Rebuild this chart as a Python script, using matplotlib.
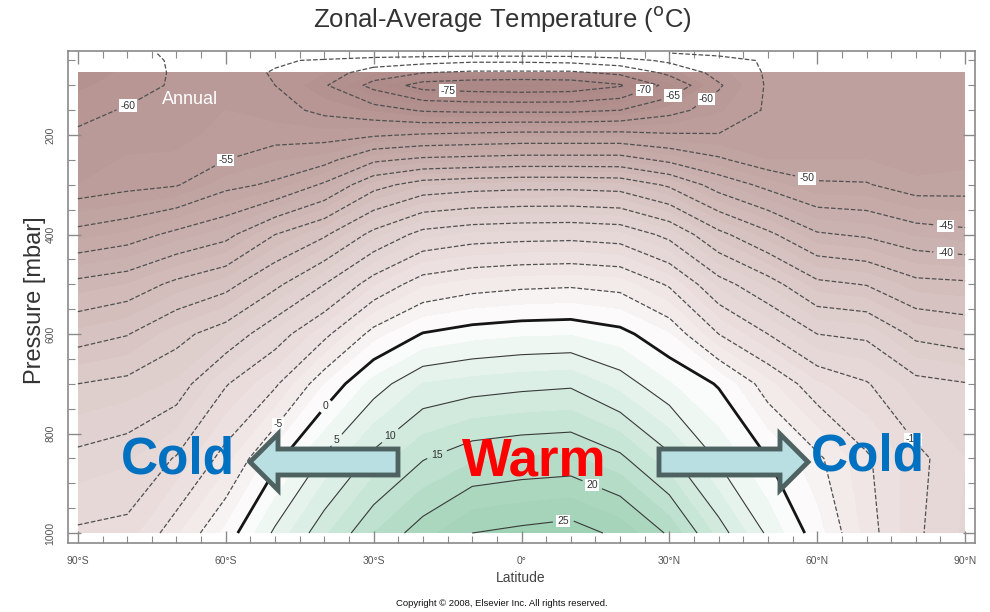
import numpy as np
import matplotlib
matplotlib.use("Agg")
import matplotlib.pyplot as plt
from matplotlib.colors import LinearSegmentedColormap
from matplotlib.patches import Rectangle, Polygon

# latitude (deg, south negative) and pressure levels (mbar)
lats = [-90, -80, -70, -60, -50, -40, -30, -20, -10, 0, 10, 20, 30, 40, 50, 60, 70, 80, 90]
pressures = [35, 50, 75, 100, 150, 200, 250, 300, 400, 500, 600, 700, 850, 1000]

# zonal-average temperature (C), one row per pressure level
t_35 = [-64.5, -61.5, -59, -58, -58.5, -57, -57, -57, -57, -57, -57, -56, -55, -54, -53, -52.5, -52.5, -52.5, -52.5]
t_50 = [-64, -61.5, -59.5, -58.5, -59.5, -60.5, -62, -63, -64, -64, -63.5, -62, -59, -56.5, -54.5, -53, -53, -52.5, -52.5]
t_75 = [-64, -62, -59.5, -58.5, -60.3, -62.5, -67.5, -70, -71, -71, -71, -69, -64, -58.5, -54.5, -53, -53, -53, -53]
t_100 = [-63, -61.5, -59.5, -58, -60, -64.5, -71.5, -77, -78, -78.5, -78, -75.5, -68.5, -60.5, -54.5, -53, -53, -53.5, -53.5]
t_150 = [-61, -59.7, -59, -57.5, -58.5, -61, -63, -65.5, -66, -66, -66, -65, -61.5, -58, -54.5, -53, -53.5, -54, -54]
t_200 = [-59.5, -58.5, -58.5, -56.5, -56.5, -56.5, -55.5, -54.5, -54, -53.5, -53.5, -53.5, -54.5, -54.8, -54.5, -53, -53.5, -54, -54]
t_250 = [-58.5, -57.3, -57, -55, -52.8, -51.5, -45.8, -44, -43.5, -43, -43, -43, -46, -49.3, -52.5, -52.5, -52.5, -53.5, -53]
t_300 = [-57.5, -56.2, -55.3, -51.2, -49.3, -44.3, -36.6, -33, -32, -31.5, -31.5, -32, -35.7, -42.1, -46.3, -49.5, -49.7, -52, -51.8]
t_400 = [-48.6, -47, -43.9, -41.3, -35, -30.6, -23.7, -18.5, -17, -16.5, -16.3, -17, -21.2, -28.8, -34, -39.5, -40.6, -42.9, -43.9]
t_500 = [-38.9, -37.5, -34, -31.4, -26, -20, -13, -8, -6.5, -5.8, -5.5, -6.2, -10.5, -18.3, -23.2, -29, -30.2, -33.8, -34.3]
t_600 = [-31.8, -30.2, -26.2, -23, -17, -11, -3.7, 0.2, 1.5, 2.1, 2.3, 1, -2.4, -10, -15, -20, -20.8, -26, -27.3]
t_700 = [-25, -24, -22.1, -15.3, -10.6, -2.6, 3.5, 7.6, 8.5, 9.1, 9.5, 6.5, 2.7, -0.3, -6.7, -12.2, -14.7, -18.8, -19.8]
t_850 = [-19.1, -18, -14.7, -8.6, -1, 5.5, 10.9, 14.8, 17, 17.7, 18, 15.7, 10.7, 4.5, 0, -4.3, -9.5, -14, -17.5]
t_1000 = [-14.5, -14, -8, -1.8, 5.6, 12, 17.5, 21.5, 25, 25.8, 26.5, 24.2, 19.5, 11.5, 4.4, -1.5, -8.5, -14.4, -18]

temps = np.array([t_35, t_50, t_75, t_100, t_150, t_200, t_250, t_300,
                  t_400, t_500, t_600, t_700, t_850, t_1000])

neg_levels = list(range(-80, 0, 5))
pos_levels = [5, 10, 15, 20, 25]

xtick_vals = [-90, -60, -30, 0, 30, 60, 90]
xtick_labels = ["90°S", "60°S", "30°S", "0°", "30°N", "60°N", "90°N"]
ytick_vals = [200, 400, 600, 800, 1000]

plt.rcParams['font.family'] = ['Liberation Sans', 'DejaVu Sans']

W, H = 990, 612
fig = plt.figure(figsize=(W / 100, H / 100), dpi=100)
ax = fig.add_axes([68 / W, 1 - 543 / H, 907 / W, 492 / H])

# brownish-pink for cold, white near zero, pale green for warm
anchors = [(-82.5, "#a88482"), (-65, "#b3918f"), (-55, "#bd9f9d"), (-45, "#c6acaa"),
           (-35, "#d2bcba"), (-25, "#ddccca"), (-15, "#e7dad9"), (-7, "#f1e9e8"),
           (-2, "#faf7f7"), (0, "#ffffff"), (3, "#f3f9f6"), (8, "#dff0e8"),
           (15, "#c4e4d3"), (22, "#a9d6bd"), (30, "#98ceb1")]
lo, hi = anchors[0][0], anchors[-1][0]
cmap = LinearSegmentedColormap.from_list(
    "zonal", [((t - lo) / (hi - lo), c) for t, c in anchors])
norm = plt.Normalize(lo, hi)

cf = ax.contourf(lats, pressures, temps, levels=np.arange(-82.5, 30.1, 2.5),
                 cmap=cmap, norm=norm)
cf.set_clip_path(Rectangle((-90, 74), 180, 926, transform=ax.transData))

cs_neg = ax.contour(lats, pressures, temps, levels=neg_levels, colors="#505050",
                    linewidths=0.9, linestyles="--")
cs_zero = ax.contour(lats, pressures, temps, levels=[0], colors="#151515",
                     linewidths=2.0)
cs_pos = ax.contour(lats, pressures, temps, levels=pos_levels, colors="#3a3a3a",
                    linewidths=0.8)

box = dict(facecolor="white", edgecolor="none", pad=0.8)
neg_labels = ax.clabel(cs_neg, fmt="%d", fontsize=7.5, colors="#333333",
                       manual=[(-15, 110), (25, 112), (31, 125), (38, 134),
                               (-80, 138), (-60, 250), (58, 284), (86, 389),
                               (86, 441), (81, 800), (-49.6, 779)])
for t in neg_labels:
    t.set_bbox(box)
zero_labels = ax.clabel(cs_zero, fmt="%d", fontsize=7.5, colors="#333333",
                        manual=[(-40, 743)])
pos_labels = ax.clabel(cs_pos, fmt="%d", fontsize=7.5, colors="#333333",
                       manual=[(-37.5, 813), (-27, 800), (-17.5, 833),
                               (15, 887), (8.5, 975)])
for t in pos_labels:
    if t.get_text() in ("20", "25"):
        t.set_bbox(box)
for t in list(neg_labels) + list(zero_labels) + list(pos_labels):
    t.set_rotation(0)

ax.set_xlim(-92, 92)
ax.set_ylim(1020, 31)
ax.set_xticks(xtick_vals)
ax.set_xticklabels(xtick_labels)
ax.set_xticks(np.arange(-90, 91, 5), minor=True)
ax.set_yticks(ytick_vals)
ax.set_yticks(np.arange(50, 1001, 50), minor=True)
ax.tick_params(which="both", direction="in", top=True, right=True,
               color="#8a8a8a", labelcolor="#555555", labelsize=7.5, pad=9)
ax.tick_params(which="major", length=9, width=1)
ax.tick_params(which="minor", length=5, width=0.8)
plt.setp(ax.get_yticklabels(), rotation=90, va="center")
for s in ax.spines.values():
    s.set_color("#8a8a8a")
    s.set_linewidth(1.2)

ax.text(-73, 128, "Annual", color="white", fontsize=13, va="center", ha="left")

fig.text(502 / W, 1 - 19 / H, r"Zonal-Average Temperature ($^{\rm o}$C)",
         fontsize=18.5, color="#333333", ha="center", va="center")
fig.text(35 / W, 1 - 300 / H, "Pressure [mbar]", fontsize=17, color="#333333",
         rotation=90, ha="center", va="center")
fig.text(521 / W, 1 - 578 / H, "Latitude", fontsize=10, color="#444444",
         ha="center", va="center")
fig.text(502 / W, 1 - 604 / H, "Copyright \u00a9 2008, Elsevier Inc. All rights reserved.",
         fontsize=6.8, color="#111111", ha="center", va="center")

# overlay arrows and words
def px(pts):
    return [(x / W, 1 - y / H) for x, y in pts]

left_arrow = [(250, 462), (278, 434), (278, 449), (398, 449), (398, 475), (278, 475), (278, 490)]
right_arrow = [(808, 462), (780, 434), (780, 449), (659, 449), (659, 475), (780, 475), (780, 490)]
for pts in (left_arrow, right_arrow):
    fig.add_artist(Polygon(px(pts), closed=True, transform=fig.transFigure,
                           facecolor="#b9dfe2", edgecolor="#4e6361", linewidth=3.5,
                           joinstyle="miter"))

fig.text(178 / W, 1 - 460 / H, "Cold", fontsize=37, fontweight="bold",
         color="#0070c0", ha="center", va="center")
fig.text(534 / W, 1 - 462 / H, "Warm", fontsize=38, fontweight="bold",
         color="#ff0000", ha="center", va="center")
fig.text(868 / W, 1 - 457 / H, "Cold", fontsize=37, fontweight="bold",
         color="#0070c0", ha="center", va="center")

fig.savefig("out.png", dpi=100)
